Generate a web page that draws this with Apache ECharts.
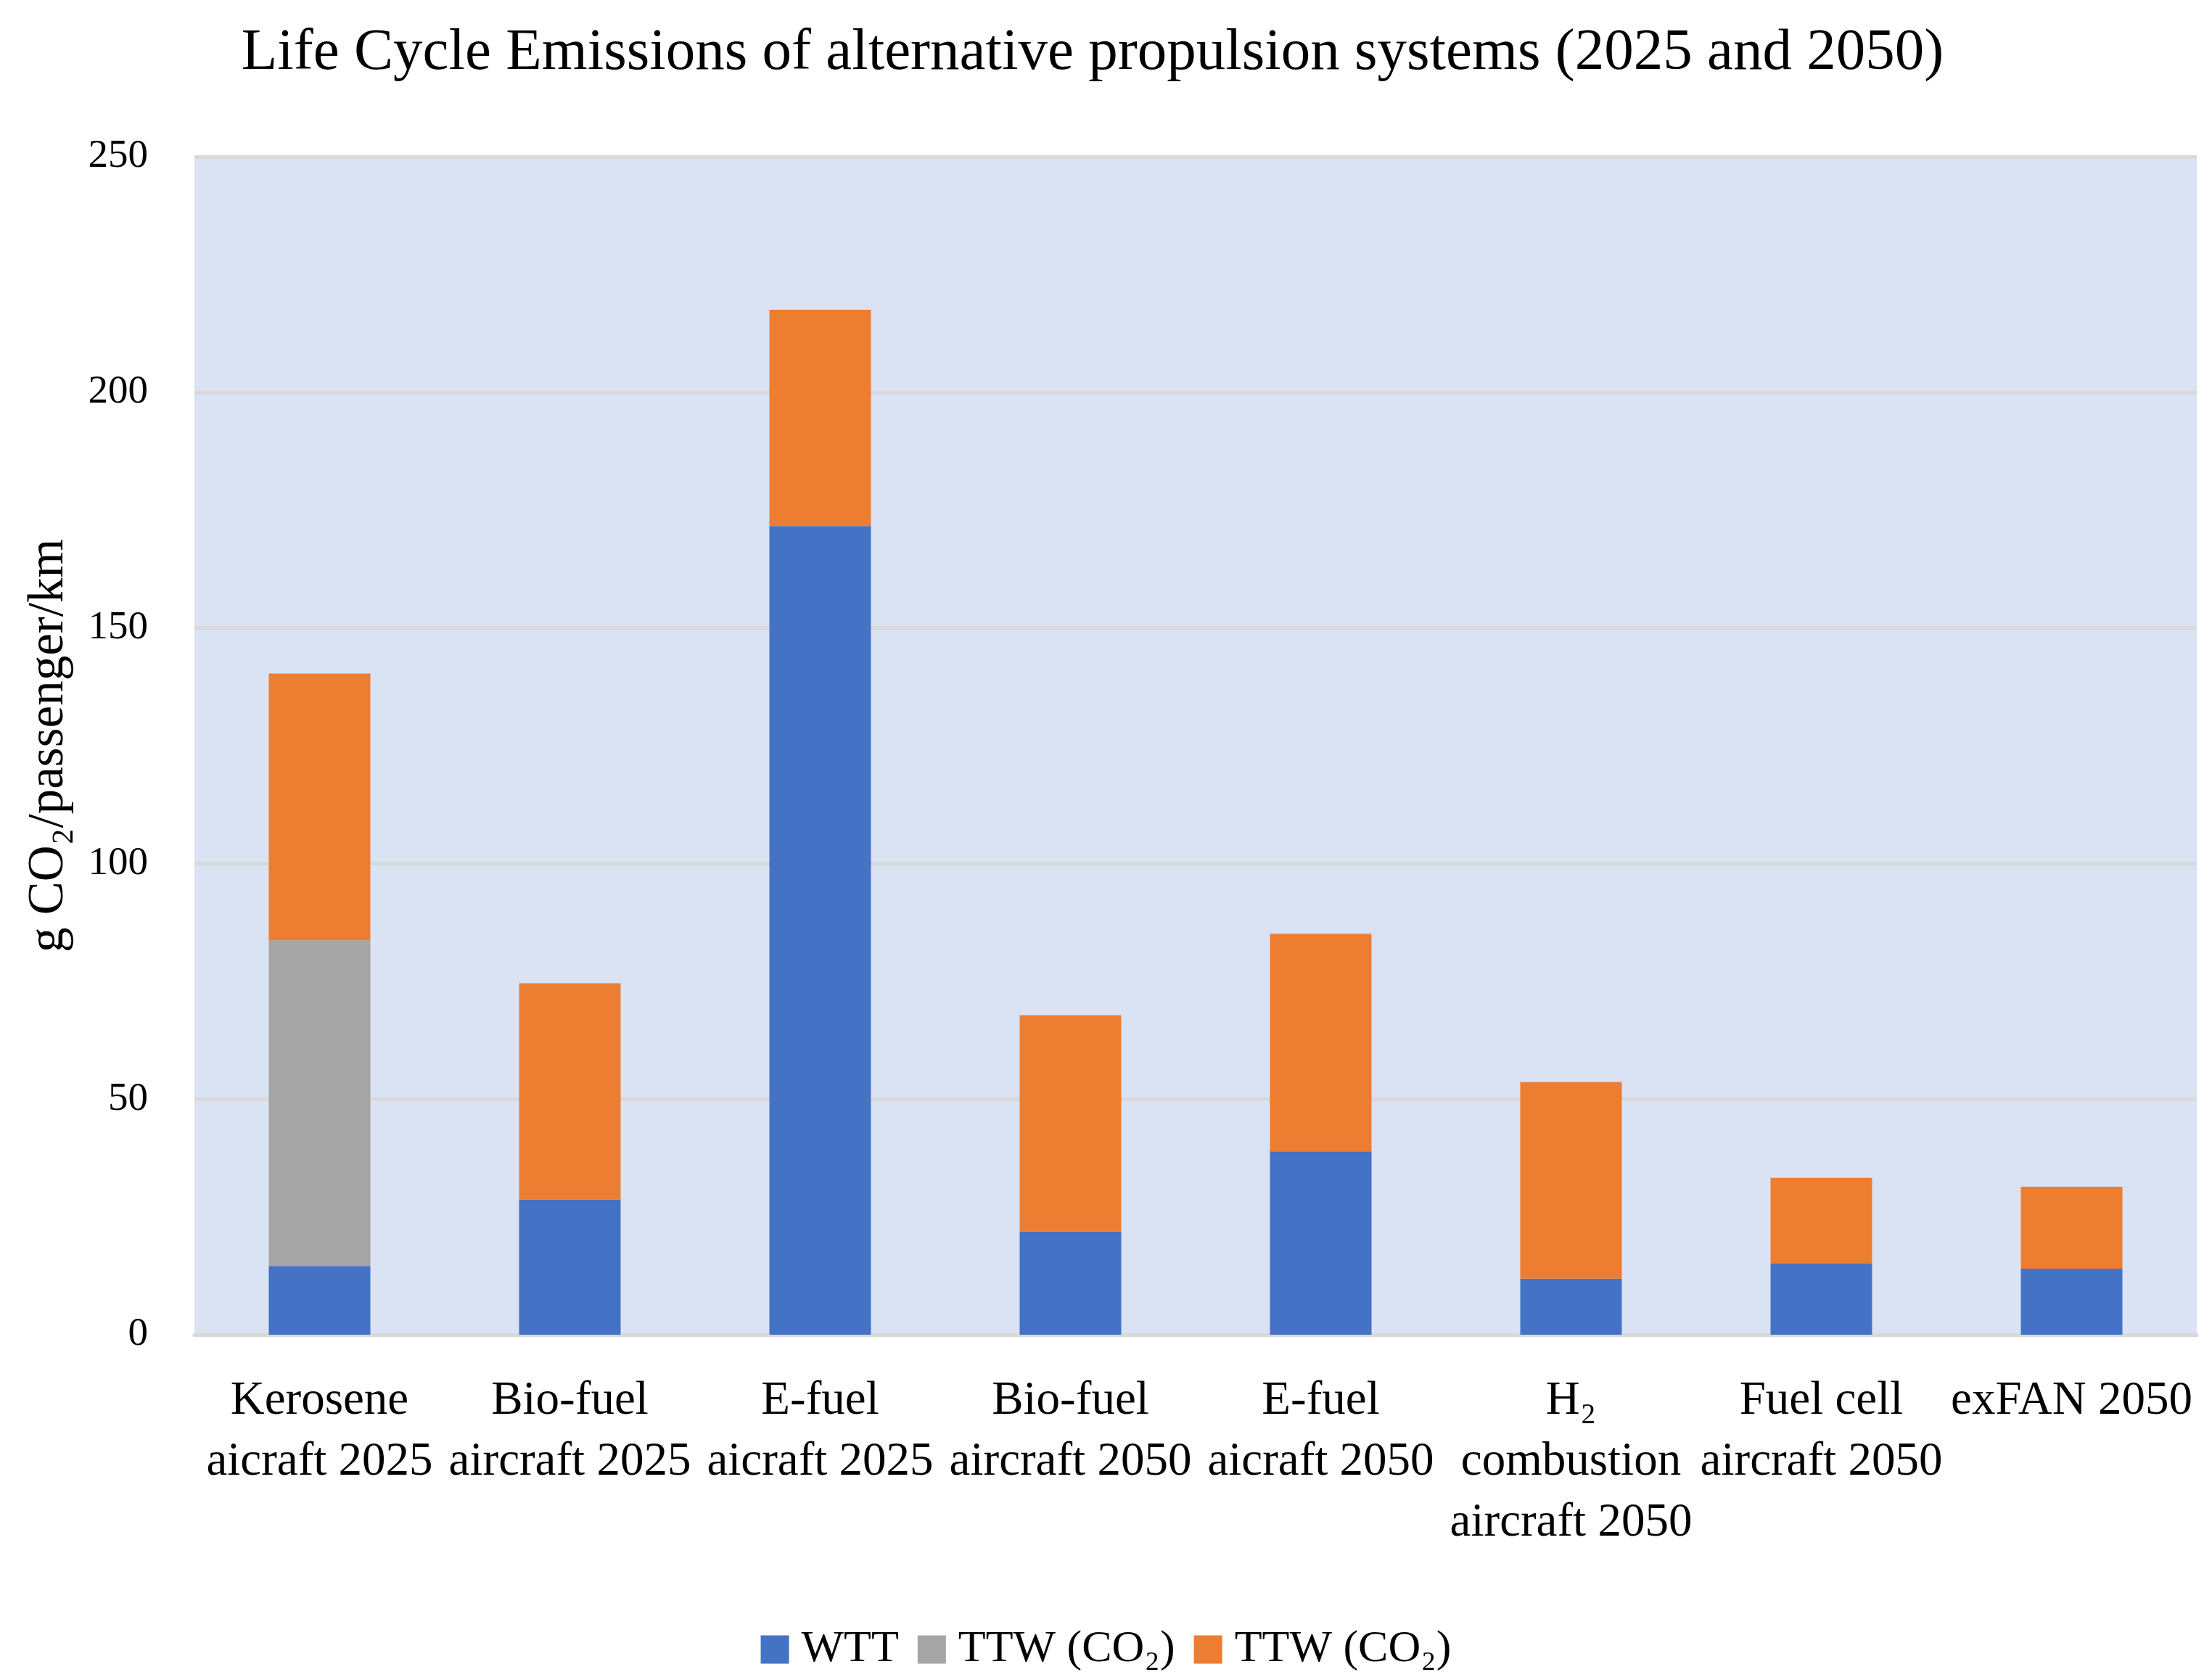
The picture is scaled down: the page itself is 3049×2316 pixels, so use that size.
<!DOCTYPE html>
<html>
<head>
<meta charset="utf-8">
<title>Life Cycle Emissions</title>
<script src="https://cdn.jsdelivr.net/npm/echarts@6/dist/echarts.min.js"></script>
<style>
  html, body { margin: 0; padding: 0; background: #fff; }
  #chart { width: 3049px; height: 2316px; }
</style>
</head>
<body>
<div id="chart"></div>
<script>
// categories as printed under the bars (spelling kept as in the source)
const categories = [
  'Kerosene\naicraft 2025',
  'Bio-fuel\naircraft 2025',
  'E-fuel\naicraft 2025',
  'Bio-fuel\naircraft 2050',
  'E-fuel\naicraft 2050',
  'H\u2082\ncombustion\naircraft 2050',
  'Fuel cell\naircraft 2050',
  'exFAN 2050'
];

// g CO2 / passenger / km
const wtt       = [14.6, 28.7, 171.6, 21.9, 38.9, 11.9, 15.1, 14.0];
const ttwGrey   = [69.1, null, null, null, null, null, null, null];
const ttwOrange = [56.6, 45.9, 45.9, 45.9, 46.2, 41.7, 18.2, 17.4];

const yTicks = [0, 50, 100, 150, 200, 250];

const FONT = '"Liberation Serif", "DejaVu Serif", serif';

const chart = echarts.init(document.getElementById('chart'));

const option = {
  animation: false,
  color: ['#4472c4', '#a5a5a5', '#ed7d31'],
  title: {
    text: 'Life Cycle Emissions of alternative propulsion systems (2025 and 2050)',
    left: 1501,
    textAlign: 'center',
    top: 28,
    textStyle: { fontFamily: FONT, fontSize: 81, fontWeight: 'normal', color: '#000' }
  },
  legend: {
    bottom: 6,
    left: 'center',
    icon: 'rect',
    itemWidth: 39,
    itemHeight: 39,
    itemGap: 26,
    textStyle: { fontFamily: FONT, fontSize: 62, color: '#000', padding: [0, 0, 0, 12] },
    // second TTW series carries a suffix so the legend keeps both entries
    formatter: name => name.replace(/ #2$/, ''),
    data: ['WTT', 'TTW (CO\u2082)', 'TTW (CO\u2082) #2']
  },
  grid: {
    left: 268,
    right: 21,
    top: 216,
    bottom: 476,
    show: true,
    backgroundColor: '#dae3f3',
    borderWidth: 0
  },
  xAxis: {
    type: 'category',
    data: categories,
    axisTick: { show: false },
    axisLine: { show: true, lineStyle: { color: '#d9d9d9', width: 5 } },
    axisLabel: {
      interval: 0,
      margin: 50,
      fontFamily: FONT,
      fontSize: 65,
      lineHeight: 84,
      color: '#000'
    }
  },
  yAxis: {
    type: 'value',
    min: yTicks[0],
    max: yTicks[yTicks.length - 1],
    interval: 50,
    name: 'g CO\u2082/passenger/km',
    nameLocation: 'middle',
    nameGap: 166,
    nameRotate: 90,
    nameTextStyle: { fontFamily: FONT, fontSize: 69, color: '#000' },
    axisLine: { show: false },
    axisTick: { show: false },
    axisLabel: { margin: 64, fontFamily: FONT, fontSize: 55, color: '#000' },
    splitLine: { show: true, lineStyle: { color: '#d9d9d9', width: 5 } }
  },
  series: [
    { name: 'WTT', type: 'bar', stack: 'lce', barWidth: 140, data: wtt },
    { name: 'TTW (CO\u2082)', type: 'bar', stack: 'lce', barWidth: 140, data: ttwGrey },
    { name: 'TTW (CO\u2082) #2', type: 'bar', stack: 'lce', barWidth: 140, data: ttwOrange }
  ]
};

chart.setOption(option);
</script>
</body>
</html>
